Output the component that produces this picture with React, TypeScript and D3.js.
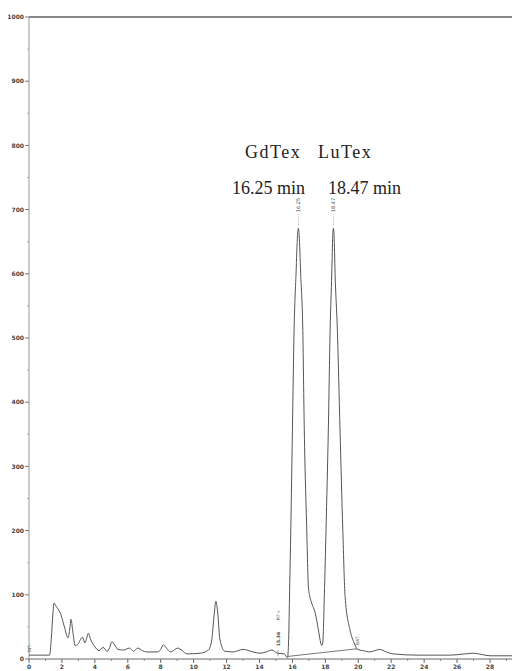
import * as d3 from "d3";

// chromatogram trace: [time (min), response]
const traceTime = [
  0, 0.8, 1.25, 1.35, 1.45, 1.52, 1.65, 1.94, 2.15, 2.37, 2.47, 2.55, 2.65, 2.8, 3.0, 3.12, 3.24, 3.4, 3.5,
  3.6, 3.75, 4.0, 4.25, 4.5, 4.75, 4.9, 5.03, 5.2, 5.4, 5.73, 6.1, 6.35, 6.6, 6.9, 7.15, 7.8, 8.0, 8.15, 8.35,
  8.6, 9.03, 9.3, 9.6, 10.4, 10.9, 11.1, 11.25, 11.35, 11.45, 11.6, 11.9, 12.4, 13.0, 13.6, 14.03, 14.4,
  14.76, 15.1, 15.5, 15.7, 15.77, 15.83, 15.9, 16.0, 16.1, 16.22, 16.31, 16.36, 16.41, 16.5, 16.63, 16.72,
  16.87, 16.97, 17.05, 17.17, 17.38, 17.58, 17.72, 17.78, 17.84, 17.94, 18.04, 18.18, 18.29, 18.39, 18.45,
  18.49, 18.53, 18.59, 18.73, 18.89, 19.06, 19.2, 19.5, 19.75, 19.95, 20.3, 20.7, 21.0, 21.3, 21.7, 22.1,
  23.6, 25.6, 26.5, 27.0, 27.5, 28.0, 29.4,
];
const traceValue = [
  6, 6, 6, 30, 70, 87, 82, 69, 50, 33, 45, 62, 45, 21, 24, 30, 34, 25, 32,
  40, 30, 19, 13, 18, 12, 18, 27, 22, 15, 14, 17, 12, 17, 13, 11, 11, 15, 22, 17,
  11, 17, 13, 8, 9, 14, 30, 70, 90, 75, 30, 12, 11, 15, 11, 9, 11,
  14, 9, 8, 2, 30, 107, 201, 357, 512, 601, 660, 671, 660, 601, 512, 357,
  201, 112, 98, 87, 72, 45, 25, 21, 25, 100, 201, 357, 512, 601, 660,
  671, 660, 601, 512, 357, 201, 97, 45, 25, 15, 13, 11, 13, 15, 11, 8,
  6, 6, 8, 9, 7, 5, 5,
];

// integration baseline under the two main peaks
const baseTime = [15.72, 19.95];
const baseValue = [4, 16];

const yTicks = [0, 100, 200, 300, 400, 500, 600, 700, 800, 900, 1000];
const xTicks = [0, 2, 4, 6, 8, 10, 12, 14, 16, 18, 20, 22, 24, 26, 28];

const peakNames = ["GdTex", "LuTex"];
const peakTimes = ["16.25 min", "18.47 min"];
const peakLabels = ["16.25", "18.47"];
const peakApex = [16.36, 18.49];

const W = 512;
const H = 671;

export default function App() {
  const x = d3.scaleLinear().domain([0, 28]).range([29, 490]);
  const y = d3.scaleLinear().domain([0, 1000]).range([659, 17]);

  const trace = traceTime.map((t, i) => [t, traceValue[i]] as [number, number]);
  const base = baseTime.map((t, i) => [t, baseValue[i]] as [number, number]);

  const line = d3
    .line<[number, number]>()
    .x((d) => x(d[0]))
    .y((d) => y(d[1]))
    .curve(d3.curveMonotoneX);

  const straight = d3
    .line<[number, number]>()
    .x((d) => x(d[0]))
    .y((d) => y(d[1]));

  const minorY = d3.range(50, 1000, 100);
  const minorX = d3.range(1, 30, 2);
  const ink = "#555";

  return (
    <svg
      width={W}
      height={H}
      style={{ position: "absolute", left: 0, top: 0, background: "#fff" }}
      fontFamily="'DejaVu Sans', sans-serif"
    >
      {/* top frame line */}
      <line x1={x(0)} x2={W} y1={y(1000)} y2={y(1000)} stroke="#888" strokeWidth={2} />
      {/* y axis */}
      <line x1={x(0)} x2={x(0)} y1={y(1000)} y2={y(0)} stroke="#999" strokeWidth={1} />
      {yTicks.map((v) => (
        <g key={"y" + v}>
          <line x1={x(0) - 4} x2={x(0)} y1={y(v)} y2={y(v)} stroke="#777" />
          <text x={x(0) - 5} y={y(v)} dy="0.35em" fontSize={6} textAnchor="end" fill="#444" fontWeight="bold">
            {v}
          </text>
        </g>
      ))}
      {minorY.map((v) => (
        <line key={"my" + v} x1={x(0) - 2} x2={x(0)} y1={y(v)} y2={y(v)} stroke="#aaa" />
      ))}
      {/* x axis */}
      <line x1={x(0)} x2={W} y1={y(0)} y2={y(0)} stroke="#666" strokeWidth={1} />
      {xTicks.map((t) => (
        <g key={"x" + t}>
          <line x1={x(t)} x2={x(t)} y1={y(0)} y2={y(0) + 4} stroke="#666" />
          <text x={x(t)} y={y(0) + 10} fontSize={6} textAnchor="middle" fill="#444" fontWeight="bold">
            {t}
          </text>
        </g>
      ))}
      {minorX.map((t) => (
        <line key={"mx" + t} x1={x(t)} x2={x(t)} y1={y(0)} y2={y(0) + 2} stroke="#888" />
      ))}

      {/* trace and baseline */}
      <path d={straight(base) ?? ""} fill="none" stroke="#777" strokeWidth={1} />
      <path d={line(trace) ?? ""} fill="none" stroke={ink} strokeWidth={1} />

      {/* peak retention labels */}
      {peakApex.map((t, i) => (
        <g key={"pk" + i}>
          <line
            x1={x(t)}
            x2={x(t)}
            y1={y(671) - 3}
            y2={y(671) - 14}
            stroke="#888"
            strokeWidth={0.6}
            strokeDasharray="1 1"
          />
          <text
            transform={`translate(${x(t) + 2},${y(671) - 16}) rotate(-90)`}
            fontSize={5}
            fill="#444"
          >
            {peakLabels[i]}
          </text>
        </g>
      ))}

      {/* small integrator marks */}
      <text transform={`translate(${x(0) + 2},${y(10)}) rotate(-90)`} fontSize={4.5} fill="#555">
        INT-
      </text>
      <text transform={`translate(${x(15.12) + 2},${y(20)}) rotate(-90)`} fontSize={4.5} fill="#444" fontWeight="bold">
        15.36
      </text>
      <text transform={`translate(${x(15.12) + 2},${y(60)}) rotate(-90)`} fontSize={4.5} fill="#555">
        PIT+
      </text>
      <line x1={x(15.12)} x2={x(15.12)} y1={y(14)} y2={y(4)} stroke="#666" strokeWidth={0.6} />
      <text transform={`translate(${x(19.95) + 2},${y(22)}) rotate(-90)`} fontSize={4.5} fill="#555">
        BAT.
      </text>

      {/* annotations */}
      <g fontFamily="'Liberation Serif', 'Times New Roman', serif" fontSize={18} fill="#222">
        {peakNames.map((n, i) => (
          <text key={n} x={[245, 318][i]} y={158} letterSpacing={1.5}>
            {n}
          </text>
        ))}
        {peakTimes.map((n, i) => (
          <text key={n} x={[232, 328][i]} y={194}>
            {n}
          </text>
        ))}
      </g>
    </svg>
  );
}
